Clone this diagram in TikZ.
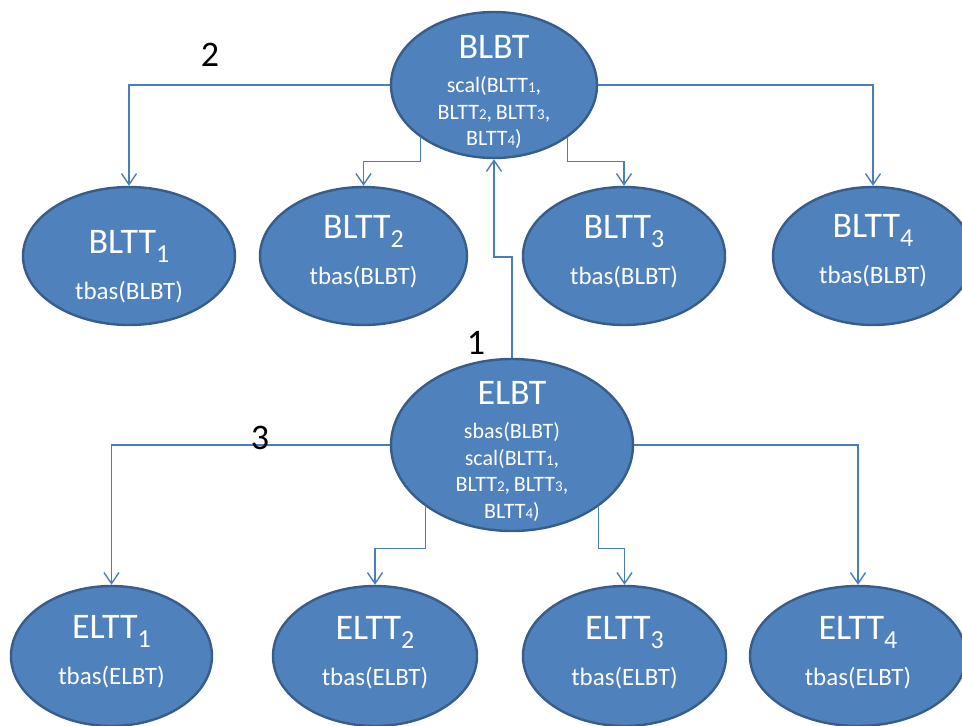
\documentclass[tikz,border=0pt]{standalone}
\usepackage{fontspec}
\setmainfont{Carlito}
\usetikzlibrary{shapes.geometric,arrows.meta}
\definecolor{fillb}{RGB}{79,129,189}
\definecolor{edgeb}{RGB}{56,93,138}
\definecolor{lineb}{RGB}{74,126,187}
\newcommand{\bsub}[1]{\raisebox{-9pt}{\fontsize{26}{26}\selectfont #1}}
\newcommand{\sdig}[1]{{\fontsize{15}{15}\selectfont #1}}
\newcommand{\bigtxt}[1]{{\fontsize{36}{36}\selectfont #1}}
\begin{document}
\begin{tikzpicture}[x=1pt,y=-1pt,
  ell/.style={ellipse, draw=edgeb, line width=2.4pt, fill=fillb, inner sep=0pt},
  txt/.style={text=white, inner sep=0pt, align=center},
  leaftxt/.style={txt, font=\fontsize{25}{30}\selectfont},
  roottxt/.style={txt, font=\fontsize{22}{26.6}\selectfont},
  conn/.style={draw=lineb, line width=1.4pt, -{Straight Barb[length=11pt,width=15pt,line width=1.4pt]}},
  num/.style={font=\fontsize{36}{36}\selectfont, text=black, inner sep=0pt}]
\useasboundingbox (0,0) rectangle (962,726);

% ellipses
\node[ell, minimum width=206pt, minimum height=146pt] (blbt) at (494,85) {};
\node[ell, minimum width=212pt, minimum height=138pt] (bltt1) at (129,256) {};
\node[ell, minimum width=207pt, minimum height=138pt] (bltt2) at (363.5,256) {};
\node[ell, minimum width=202pt, minimum height=138pt] (bltt3) at (624,256) {};
\node[ell, minimum width=200pt, minimum height=138pt] (bltt4) at (873,256) {};
\node[ell, minimum width=242pt, minimum height=172pt] (elbt) at (512,445) {};
\node[ell, minimum width=201pt, minimum height=140pt] (eltt1) at (111.5,656) {};
\node[ell, minimum width=204pt, minimum height=140pt] (eltt2) at (375,656) {};
\node[ell, minimum width=203pt, minimum height=140pt] (eltt3) at (624.5,656) {};
\node[ell, minimum width=216pt, minimum height=140pt] (eltt4) at (858,656) {};

% texts (yshift is in page units: positive moves up)
\node[roottxt] (blbtT) at ([yshift=-7pt]blbt.center)
  {\bigtxt{BLBT}\\[7.5pt]scal(BLTT\sdig{1},\\BLTT\sdig{2},\,BLTT\sdig{3},\\BLTT\sdig{4})};
\node[leaftxt] (bltt1T) at ([yshift=-11pt]bltt1.center) {\bigtxt{BLTT}\bsub{1}\\[16pt]tbas(BLBT)};
\node[leaftxt] (bltt2T) at ([yshift=4pt]bltt2.center) {\bigtxt{BLTT}\bsub{2}\\[16pt]tbas(BLBT)};
\node[leaftxt] (bltt3T) at ([yshift=4pt]bltt3.center) {\bigtxt{BLTT}\bsub{3}\\[16pt]tbas(BLBT)};
\node[leaftxt] (bltt4T) at ([yshift=5pt]bltt4.center) {\bigtxt{BLTT}\bsub{4}\\[16pt]tbas(BLBT)};
\node[roottxt] (elbtT) at ([yshift=-6.5pt]elbt.center)
  {\bigtxt{ELBT}\\[7pt]sbas(BLBT)\\scal(BLTT\sdig{1},\\BLTT\sdig{2},\,BLTT\sdig{3},\\BLTT\sdig{4})};
\node[leaftxt] (eltt1T) at ([yshift=4.5pt]eltt1.center) {\bigtxt{ELTT}\bsub{1}\\[16pt]tbas(ELBT)};
\node[leaftxt] (eltt2T) at ([yshift=3pt]eltt2.center) {\bigtxt{ELTT}\bsub{2}\\[16pt]tbas(ELBT)};
\node[leaftxt] (eltt3T) at ([yshift=3pt]eltt3.center) {\bigtxt{ELTT}\bsub{3}\\[16pt]tbas(ELBT)};
\node[leaftxt] (eltt4T) at ([yshift=3pt]eltt4.center) {\bigtxt{ELTT}\bsub{4}\\[16pt]tbas(ELBT)};

% connectors
\draw[conn] (blbt.west) -| (bltt1.north);
\draw[conn] (blbt.east) -| (bltt4.north);
\draw[conn] (blbt.south west) -- ++(0,24) -| (bltt2.north);
\draw[conn] (blbt.south east) -- ++(0,24) -| (bltt3.north);
\draw[conn] (elbt.north) -- ++(0,-101) -| (blbt.south);
\draw[conn] (elbt.west) -| (eltt1.north);
\draw[conn] (elbt.east) -| (eltt4.north);
\draw[conn] (elbt.south west) -- ++(0,42) -| (eltt2.north);
\draw[conn] (elbt.south east) -- ++(0,42) -| (eltt3.north);

% step numbers
\node[num] (n2) at (210,55) {2};
\node[num] (n1) at (476,343) {1};
\node[num] (n3) at (260,438) {3};
\end{tikzpicture}
\end{document}
